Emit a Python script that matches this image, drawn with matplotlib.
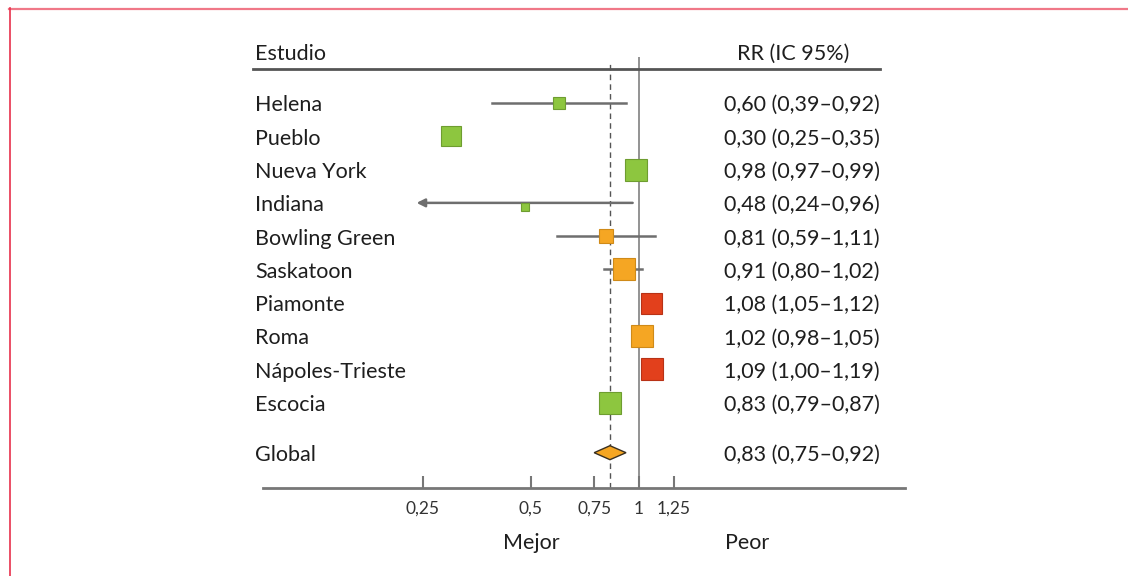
import matplotlib
matplotlib.use('Agg')
import matplotlib.pyplot as plt
from matplotlib.lines import Line2D
from matplotlib.patches import Polygon

# --- Data ---
studies = ['Helena', 'Pueblo', 'Nueva York', 'Indiana', 'Bowling Green',
           'Saskatoon', 'Piamonte', 'Roma', 'Nápoles-Trieste', 'Escocia']
rr = [0.60, 0.30, 0.98, 0.48, 0.81, 0.91, 1.08, 1.02, 1.09, 0.83]
ci_low = [0.39, 0.25, 0.97, 0.24, 0.59, 0.80, 1.05, 0.98, 1.00, 0.79]
ci_high = [0.92, 0.35, 0.99, 0.96, 1.11, 1.02, 1.12, 1.05, 1.19, 0.87]
weights = [12, 20, 22, 8, 14, 22, 21, 22, 22, 22]   # box side, px
groups = ['g', 'g', 'g', 'g', 'o', 'o', 'r', 'o', 'r', 'g']
# whiskers drawn in the original figure (others hidden behind the box)
whisker = [True, False, False, True, True, True, False, False, False, False]
rr_text = ['0,60 (0,39–0,92)', '0,30 (0,25–0,35)', '0,98 (0,97–0,99)',
           '0,48 (0,24–0,96)', '0,81 (0,59–1,11)', '0,91 (0,80–1,02)',
           '1,08 (1,05–1,12)', '1,02 (0,98–1,05)', '1,09 (1,00–1,19)',
           '0,83 (0,79–0,87)']
global_rr = 0.83
global_low = 0.75
global_high = 0.92
global_text = '0,83 (0,75–0,92)'
ticks = [0.25, 0.5, 0.75, 1, 1.25]
tick_labels = ['0,25', '0,5', '0,75', '1', '1,25']

COLORS = {'g': ('#8dc63f', '#6e9d30'), 'o': ('#f5a623', '#cf8a18'),
          'r': ('#e2401c', '#b83216')}
LINE = '#6e6e6e'
TEXT = '#1e1e1e'
FS = 15.5
DY = 0.07   # nudge text down to sit on the row centre
plt.rcParams['font.family'] = ['Lato', 'DejaVu Sans']

W, H = 1128, 576
fig = plt.figure(figsize=(W / 100, H / 100), dpi=100)
# axes in pixel box: x 263..905, y 40..488
ax = fig.add_axes([263 / W, 1 - 488 / H, (905 - 263) / W, (488 - 40) / H])
ax.set_xscale('log')
ax.set_xlim(0.0896, 5.51)
ax.set_ylim(11.56, -1.89)

for s in ['top', 'right', 'left']:
    ax.spines[s].set_visible(False)
ax.spines['bottom'].set_color('#777777')
ax.spines['bottom'].set_linewidth(2)
ax.set_yticks([])
ax.set_xticks(ticks)
ax.set_xticklabels(tick_labels)
ax.minorticks_off()
ax.tick_params(axis='x', direction='in', length=9, width=1.5, color='#777777',
               labelsize=12.5, labelcolor='#333333', pad=9)

# reference lines
ax.vlines(1, 11.56, -1.38, color='#8a8a8a', lw=1.3, zorder=1)
ax.vlines(global_rr, 11.56, -1.25, color='#555555', lw=1.0,
          linestyles=(0, (4, 3)), zorder=1)

ytr = ax.get_yaxis_transform()

# header
ax.plot([-0.0156, 0.961], [-1.02, -1.02], transform=ytr,
        color='#555555', lw=2, clip_on=False)
ax.text(-0.0125, -1.53 + DY, 'Estudio', transform=ytr,
        ha='left', va='center', fontsize=FS, color=TEXT)
ax.text(0.914, -1.53 + DY, 'RR (IC 95%)', transform=ytr,
        ha='right', va='center', fontsize=FS, color=TEXT)

for i, name in enumerate(studies):
    face, edge = COLORS[groups[i]]
    yb = i
    if name == 'Indiana':
        ax.annotate('', xy=(ci_low[i], i), xytext=(ci_high[i], i),
                    arrowprops=dict(arrowstyle='-|>', color=LINE, lw=1.8,
                                    mutation_scale=12, shrinkA=0, shrinkB=0),
                    zorder=2)
        yb = i + 0.12
    elif whisker[i]:
        ax.plot([ci_low[i], ci_high[i]], [i, i], color=LINE, lw=1.8, zorder=2)
    ax.plot(rr[i], yb, marker='s', markersize=weights[i] * 0.72,
            markerfacecolor=face, markeredgecolor=edge, markeredgewidth=0.8,
            zorder=3)
    ax.text(-0.0125, i + DY, name, transform=ytr,
            ha='left', va='center', fontsize=FS, color=TEXT)
    ax.text(0.961, i + DY, rr_text[i], transform=ytr,
            ha='right', va='center', fontsize=FS, color=TEXT)

# global diamond
gy = 10.5
ax.add_patch(Polygon([(global_low, gy), (global_rr, gy - 0.21),
                      (global_high, gy), (global_rr, gy + 0.21)],
                     closed=True, facecolor='#f5a623', edgecolor='#3a3020',
                     lw=1.0, zorder=3))
ax.text(-0.0125, gy + DY, 'Global', transform=ytr,
        ha='left', va='center', fontsize=FS, color=TEXT)
ax.text(0.961, gy + DY, global_text, transform=ytr,
        ha='right', va='center', fontsize=FS, color=TEXT)

# direction labels
ax.text(0.5, -0.122, 'Mejor', transform=ax.get_xaxis_transform(),
        ha='center', va='center', fontsize=FS, color=TEXT)
ax.text(2.0, -0.122, 'Peor', transform=ax.get_xaxis_transform(),
        ha='center', va='center', fontsize=FS, color=TEXT)

# page frame
fig.add_artist(Line2D([9 / W, 1], [1 - 8.5 / H, 1 - 8.5 / H],
                      color='#f07888', lw=1.6))
fig.add_artist(Line2D([9.5 / W, 9.5 / W], [0, 1 - 8 / H],
                      color='#e8304c', lw=1.2))

fig.savefig('out.png', dpi=100)
